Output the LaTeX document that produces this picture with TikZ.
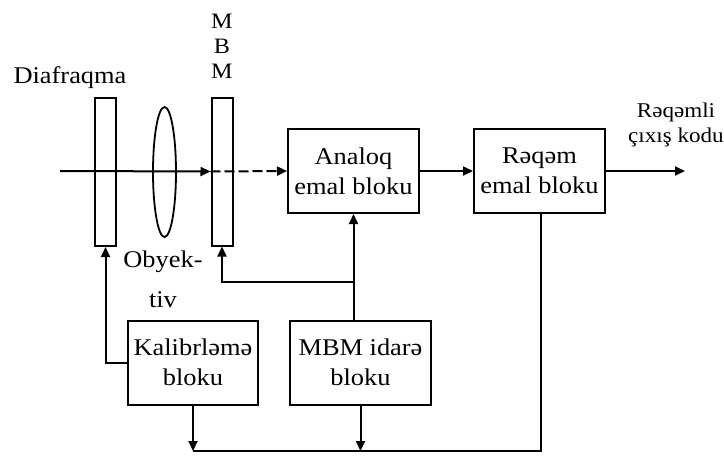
\documentclass[tikz,border=0pt]{standalone}
\usepackage{fontspec}
\setmainfont{Liberation Serif}[FakeStretch=1.1]
\usepackage{tikz}
\usetikzlibrary{arrows.meta, positioning, calc, shapes.geometric}
\tikzset{
  blk/.style={rectangle, draw, line width=1pt, minimum width=65.5pt,
    minimum height=42pt, align=center, font=\fontsize{12}{15}\selectfont,
    inner sep=2pt},
  plate/.style={rectangle, draw, line width=1pt, minimum width=10.5pt,
    minimum height=74pt, inner sep=0pt},
  arr/.style={-{Triangle[length=5pt,width=4.5pt]}, line width=1pt},
  lbl/.style={font=\fontsize{12}{15}\selectfont, align=center, inner sep=0pt},
}
\begin{document}
\begin{tikzpicture}[x=0.5pt, y=-0.5pt]
  \useasboundingbox (0,0) rectangle (724,456);

  % Optical part
  \node[plate] (diafr) at (105.5,172) {};
  \node[ellipse, draw, line width=0.9pt, minimum width=11.5pt,
        minimum height=65pt, inner sep=0pt] (lens) at (164.5,172) {};
  \node[plate] (mbm) at (222,171.5) {};

  \node[lbl] (diafrLbl) at (70,78) {Diafraqma};
  \node[lbl, font=\fontsize{11}{12.5}\selectfont] (mbmLbl) at (222,46)
       {M\\B\\M};
  \node[lbl] (lensLbl) at (163,279) {Obyek-\\[5pt]tiv};

  % Blocks
  \node[blk] (analog) at (353.5,171) {Analoq\\emal bloku};
  \node[blk] (reqem) at (539.5,171) {Rəqəm\\emal bloku};
  \node[blk, minimum width=65pt] (kalib) at (193,362.5) {Kalibrləmə\\bloku};
  \node[blk, minimum width=70.5pt] (idare) at (360.5,362.5) {MBM idarə\\bloku};

  % Signal path
  \coordinate (in) at (60,171);
  \coordinate (out) at (685,171);
  \draw[arr] (in) -- (mbm.west);
  \draw[arr, dashed, dash pattern=on 5pt off 2pt] (mbm.west) -- (analog.west);
  \draw[arr] (analog) -- (reqem);
  \draw[arr] (reqem.east) -- (out);
  \node[lbl, font=\fontsize{10.5}{12.5}\selectfont] (outLbl) at (676,125)
       {Rəqəmli\\çıxış kodu};

  % Control lines
  \coordinate (br) at (analog.south |- 0,282);
  \draw[arr] (analog.south |- idare.north) -- (analog.south);
  \draw[arr] (br) -| (mbm.south);
  \draw[arr] (kalib.west) -| (diafr.south);

  % Bottom bus
  \coordinate (busL) at (kalib.south |- 0,451);
  \coordinate (busR) at (541,451);
  \draw[line width=1pt] (busL) -- (busR) -- (busR |- reqem.south);
  \draw[arr] (kalib.south) -- (busL);
  \draw[arr] (idare.south) -- (idare.south |- busL);
\end{tikzpicture}
\end{document}
